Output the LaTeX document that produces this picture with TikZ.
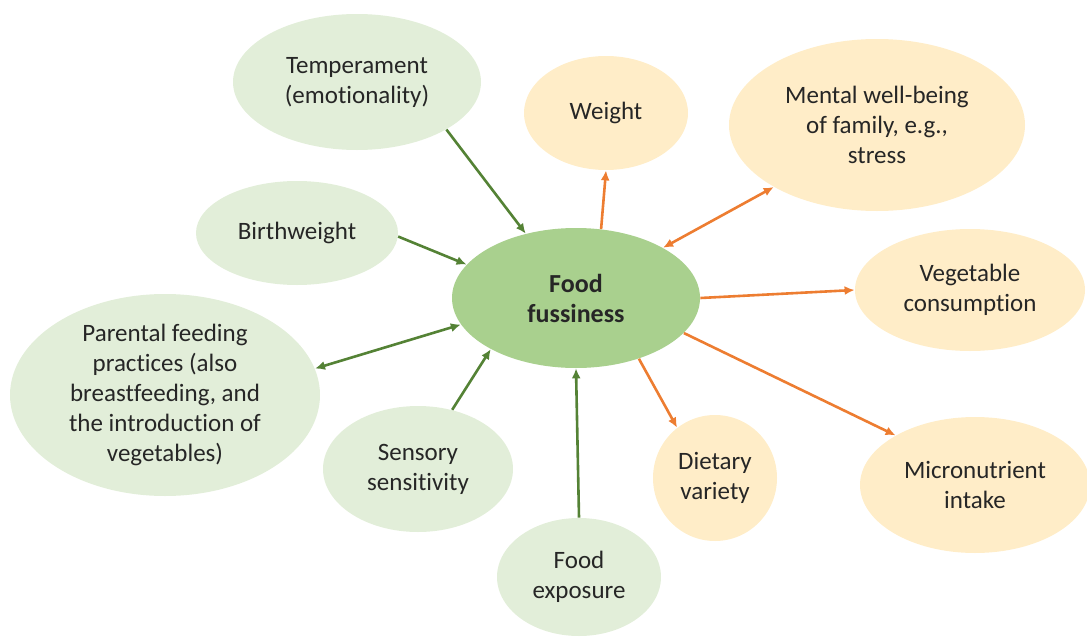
\documentclass[tikz,border=0pt]{standalone}
\usepackage{fontspec}
\setmainfont{Carlito}[Ligatures=NoCommon]
\usepackage{tikz}
\usetikzlibrary{shapes.geometric,arrows.meta}

\definecolor{leafpale}{HTML}{E2EED9}
\definecolor{leafmid}{HTML}{A9D08E}
\definecolor{leafdark}{HTML}{548235}
\definecolor{peachpale}{HTML}{FFEDC8}
\definecolor{carrot}{HTML}{ED7D31}

\begin{document}
\begin{tikzpicture}[x=0.5pt, y=-0.5pt,
        bubble/.style={ellipse, inner sep=0pt, align=center, text=black!85,
            font=\fontsize{12.5}{15}\selectfont},
        cause/.style={bubble, fill=leafpale},
        outcome/.style={bubble, fill=peachpale},
        inlink/.style={draw=leafdark, line width=1.3pt, -{Latex[length=5pt,width=4.5pt]}},
        outlink/.style={draw=carrot, line width=1.3pt, -{Latex[length=5pt,width=4.5pt]}}]
    \useasboundingbox (0,0) rectangle (1087,637);
    \clip (0,0) rectangle (1087,637);

        \node [bubble, fill=leafmid, minimum width=124pt, minimum height=70pt,
            font=\fontsize{13}{15}\selectfont\bfseries] (fuss) at (576,298) {Food\\fussiness};

        \node [cause, minimum width=124pt, minimum height=68pt] (temp) at (357,82) {Temperament\\(emotionality)};
        \node [cause, minimum width=101pt, minimum height=52pt] (birth) at (297,233) {Birthweight};
        \node [cause, minimum width=155pt, minimum height=101pt, inner xsep=-5pt, inner ysep=-3pt] (parent) at (165,395)
            {Parental feeding\\practices (also\\breastfeeding, and\\the introduction of\\vegetables)};
        \node [cause, minimum width=95pt, minimum height=63pt] (sense) at (418,469) {Sensory\\sensitivity};
        \node [cause, minimum width=82pt, minimum height=59pt] (expo) at (579,577) {Food\\exposure};

        \node [outcome, minimum width=82pt, minimum height=57pt] (weight) at (606,113) {Weight};
        \node [outcome, minimum width=148pt, minimum height=86pt] (mental) at (877,125) {Mental well-being\\of family, e.g.,\\stress};
        \node [outcome, minimum width=115pt, minimum height=61pt] (veg) at (970,290) {Vegetable\\consumption};
        \node [outcome, minimum width=62pt, minimum height=63pt] (diet) at (715,478) {Dietary\\variety};
        \node [outcome, minimum width=115pt, minimum height=68pt] (micro) at (975,485) {Micronutrient\\intake};

    \draw
        (temp.-28) edge[inlink] (fuss.128)
        (birth.-2) edge[inlink] (fuss.163)
        (parent.10) edge[inlink, {Latex[length=5pt,width=4.5pt]}-{Latex[length=5pt,width=4.5pt]}] (fuss.193)
        (sense.60) edge[inlink] (fuss.211)
        (expo.north) edge[inlink] (fuss.south)

        (fuss.70) edge[outlink] (weight.south)
        (fuss.30) edge[outlink, {Latex[length=5pt,width=4.5pt]}-{Latex[length=5pt,width=4.5pt]}] (mental.211)
        (fuss.east) edge[outlink] (veg.west)
        (fuss.316) edge[outlink] (diet.127)
        (fuss.342) edge[outlink] (micro.148);
    \end{tikzpicture}
\end{document}
